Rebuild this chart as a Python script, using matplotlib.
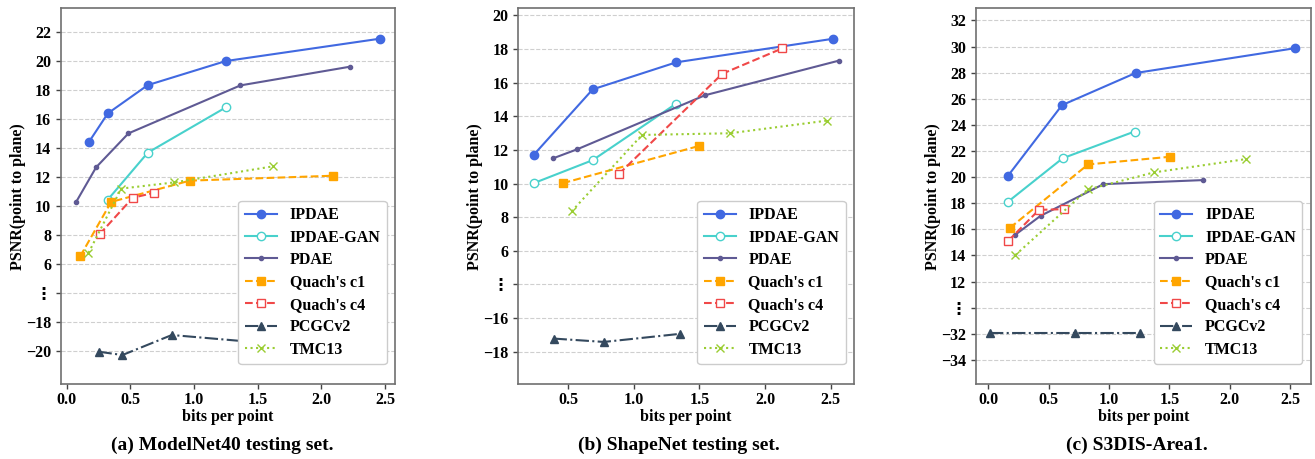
import matplotlib
matplotlib.use('Agg')
import matplotlib.pyplot as plt
from matplotlib.ticker import MultipleLocator

plt.rcParams['font.family'] = ['Liberation Serif', 'DejaVu Sans']
plt.rcParams['font.weight'] = 'bold'
plt.rcParams['axes.labelweight'] = 'bold'

series = ['IPDAE', 'IPDAE-GAN', 'PDAE', "Quach's c1", "Quach's c4", 'PCGCv2', 'TMC13']

# ---------------- (a) ModelNet40 ----------------
mn_ipdae_bpp = [0.173, 0.322, 0.636, 1.249, 2.458]
mn_ipdae_psnr = [14.41, 16.39, 18.34, 20.00, 21.54]
mn_gan_bpp = [0.322, 0.636, 1.249]
mn_gan_psnr = [10.44, 13.68, 16.80]
mn_pdae_bpp = [0.073, 0.230, 0.484, 1.364, 2.225]
mn_pdae_psnr = [10.28, 12.67, 15.01, 18.32, 19.61]
mn_c1_bpp = [0.105, 0.348, 0.966, 2.094]
mn_c1_psnr = [6.53, 10.28, 11.75, 12.09]
mn_c4_bpp = [0.257, 0.518, 0.681]
mn_c4_psnr = [8.05, 10.57, 10.90]
mn_pcgc_bpp = [0.249, 0.437, 0.825, 1.62]
mn_pcgc_psnr = [-20.05, -20.28, -18.90, -19.50]
mn_tmc_bpp = [0.170, 0.427, 0.846, 1.623]
mn_tmc_psnr = [6.76, 11.20, 11.63, 12.74]

# ---------------- (b) ShapeNet ----------------
sn_ipdae_bpp = [0.236, 0.686, 1.323, 2.518]
sn_ipdae_psnr = [11.70, 15.60, 17.21, 18.61]
sn_gan_bpp = [0.236, 0.686, 1.318]
sn_gan_psnr = [10.02, 11.39, 14.73]
sn_pdae_bpp = [0.381, 0.569, 1.542, 2.563]
sn_pdae_psnr = [11.49, 12.04, 15.25, 17.31]
sn_c1_bpp = [0.457, 1.499]
sn_c1_psnr = [10.02, 12.24]
sn_c4_bpp = [0.886, 1.674, 2.132]
sn_c4_psnr = [10.57, 16.53, 18.04]
sn_pcgc_bpp = [0.388, 0.772, 1.351]
sn_pcgc_psnr = [-17.22, -17.42, -16.94]
sn_tmc_bpp = [0.525, 1.062, 1.733, 2.470]
sn_tmc_psnr = [8.34, 12.89, 12.99, 13.74]

# ---------------- (c) S3DIS-Area1 ----------------
s3_ipdae_bpp = [0.161, 0.610, 1.219, 2.539]
s3_ipdae_psnr = [20.08, 25.51, 27.97, 29.87]
s3_gan_bpp = [0.161, 0.615, 1.211]
s3_gan_psnr = [18.10, 21.44, 23.49]
s3_pdae_bpp = [0.224, 0.432, 0.953, 1.779]
s3_pdae_psnr = [15.59, 17.03, 19.46, 19.77]
s3_c1_bpp = [0.177, 0.826, 1.508]
s3_c1_psnr = [16.10, 20.97, 21.56]
s3_c4_bpp = [0.166, 0.419, 0.624]
s3_c4_psnr = [15.13, 17.49, 17.54]
s3_pcgc_bpp = [0.014, 0.718, 1.258]
s3_pcgc_psnr = [-31.95, -31.95, -31.95]
s3_tmc_bpp = [0.224, 0.823, 1.372, 2.134]
s3_tmc_psnr = [14.03, 19.05, 20.36, 21.38]

# axis-break tick values
mn_upper_ticks = [6, 8, 10, 12, 14, 16, 18, 20, 22]
mn_lower_ticks = [-20, -18]
sn_upper_ticks = [6, 8, 10, 12, 14, 16, 18, 20]
sn_lower_ticks = [-18, -16]
s3_upper_ticks = [12, 14, 16, 18, 20, 22, 24, 26, 28, 30, 32]
s3_lower_ticks = [-34, -32]

captions = ['(a) ModelNet40 testing set.', '(b) ShapeNet testing set.', '(c) S3DIS-Area1.']

styles = {
    'IPDAE': dict(color='#4169E1', marker='o', ls='-', ms=6, mfc='#4169E1', mec='#4169E1'),
    'IPDAE-GAN': dict(color='#48D1CC', marker='o', ls='-', ms=6, mfc='white', mec='#48D1CC'),
    'PDAE': dict(color='#5f5a94', marker='.', ls='-', ms=6),
    "Quach's c1": dict(color='#FFA500', marker='s', ls='--', ms=6),
    "Quach's c4": dict(color='#F04848', marker='s', ls='--', ms=6, mfc='white', mec='#F04848'),
    'PCGCv2': dict(color='#34495E', marker='^', ls='-.', ms=6),
    'TMC13': dict(color='#9ACD32', marker='x', ls=':', ms=6),
}

panels = [
    dict(data=[(mn_ipdae_bpp, mn_ipdae_psnr), (mn_gan_bpp, mn_gan_psnr), (mn_pdae_bpp, mn_pdae_psnr),
               (mn_c1_bpp, mn_c1_psnr), (mn_c4_bpp, mn_c4_psnr), (mn_pcgc_bpp, mn_pcgc_psnr),
               (mn_tmc_bpp, mn_tmc_psnr)],
         shift=20, dots=4, upper=mn_upper_ticks, lower=mn_lower_ticks,
         ylim=(-2.3, 23.66), xlim=(-0.046, 2.579), rect=[61, 334], cap_x=222),
    dict(data=[(sn_ipdae_bpp, sn_ipdae_psnr), (sn_gan_bpp, sn_gan_psnr), (sn_pdae_bpp, sn_pdae_psnr),
               (sn_c1_bpp, sn_c1_psnr), (sn_c4_bpp, sn_c4_psnr), (sn_pcgc_bpp, sn_pcgc_psnr),
               (sn_tmc_bpp, sn_tmc_psnr)],
         shift=18, dots=4, upper=sn_upper_ticks, lower=sn_lower_ticks,
         ylim=(-1.94, 20.44), xlim=(0.119, 2.678), rect=[518.3, 335.7], cap_x=679),
    dict(data=[(s3_ipdae_bpp, s3_ipdae_psnr), (s3_gan_bpp, s3_gan_psnr), (s3_pdae_bpp, s3_pdae_psnr),
               (s3_c1_bpp, s3_c1_psnr), (s3_c4_bpp, s3_c4_psnr), (s3_pcgc_bpp, s3_pcgc_psnr),
               (s3_tmc_bpp, s3_tmc_psnr)],
         shift=40, dots=10, upper=s3_upper_ticks, lower=s3_lower_ticks,
         ylim=(4.13, 32.95), xlim=(-0.105, 2.67), rect=[975.7, 335], cap_x=1137),
]

W, H = 1315, 459
fig = plt.figure(figsize=(W / 100, H / 100), dpi=100)

FS = 11.5
for p, cap in zip(panels, captions):
    left, width = p['rect']
    ax = fig.add_axes([left / W, (H - 384.3) / H, width / W, 376.3 / H])
    for name, (xs, ys) in zip(series, p['data']):
        ys_disp = [y + p['shift'] if y < 0 else y for y in ys]
        ax.plot(xs, ys_disp, label=name, lw=1.5, **styles[name])
    ticks = [t + p['shift'] for t in p['lower']] + [p['dots']] + p['upper']
    labels = ['\u2212%d' % abs(t) for t in p['lower']] + ['\u22ee'] + ['%d' % t for t in p['upper']]
    ax.set_yticks(ticks)
    ax.set_yticklabels(labels)
    ax.set_ylim(*p['ylim'])
    ax.set_xlim(*p['xlim'])
    ax.xaxis.set_major_locator(MultipleLocator(0.5))
    ax.xaxis.set_major_formatter(plt.FormatStrFormatter('%.1f'))
    ax.yaxis.grid(True, ls='--', color='#cfcfcf', lw=0.8)
    ax.set_axisbelow(True)
    for s in ax.spines.values():
        s.set_color('#707070')
        s.set_linewidth(1.2)
    ax.tick_params(labelsize=FS, length=3.5, width=1, color='#444444')
    ax.tick_params(axis='x', pad=2)
    for lab in ax.get_xticklabels() + ax.get_yticklabels():
        lab.set_fontweight('bold')
    ax.set_xlabel('bits per point', fontsize=FS, fontweight='bold', labelpad=1)
    ax.set_ylabel('PSNR(point to plane)', fontsize=FS, fontweight='bold', labelpad=0)
    leg = ax.legend(loc='lower right', bbox_to_anchor=(0.975, 0.054), borderaxespad=0,
                    prop=dict(size=FS, weight='bold'), handlelength=2.0,
                    labelspacing=0.4, framealpha=1.0)
    leg.set_zorder(10)
    fig.text(p['cap_x'] / W, 1 - 445 / H, cap, ha='center', va='center',
             fontsize=14, fontweight='bold')

fig.savefig('out.png', dpi=100)
